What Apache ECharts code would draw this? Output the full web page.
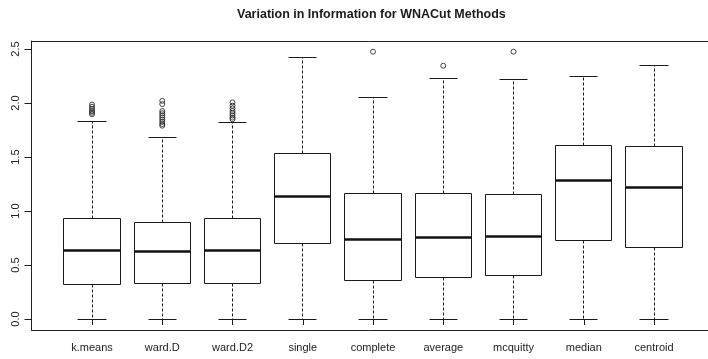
<!DOCTYPE html>
<html>
<head>
<meta charset="utf-8">
<script src="https://cdn.jsdelivr.net/npm/echarts@6/dist/echarts.min.js"></script>
<style>html,body{margin:0;padding:0;background:#fff;}#c{width:708px;height:359px;}</style>
</head>
<body>
<div id="c"></div>
<script>
var categories = ['k.means','ward.D','ward.D2','single','complete','average','mcquitty','median','centroid'];
var whiskerLow  = [0, 0, 0, 0, 0, 0, 0, 0, 0];
var q1          = [0.318, 0.327, 0.333, 0.701, 0.352, 0.380, 0.401, 0.729, 0.660];
var medians     = [0.632, 0.623, 0.630, 1.130, 0.734, 0.756, 0.762, 1.284, 1.222];
var q3          = [0.932, 0.889, 0.929, 1.531, 1.160, 1.164, 1.151, 1.602, 1.599];
var whiskerHigh = [1.830, 1.679, 1.818, 2.417, 2.053, 2.225, 2.216, 2.244, 2.345];
var outliers = [
  [1.985, 1.965, 1.945, 1.925, 1.91, 1.895],
  [2.02, 1.99, 1.925, 1.905, 1.885, 1.865, 1.845, 1.825, 1.805, 1.79],
  [2.005, 1.975, 1.95, 1.925, 1.905, 1.885, 1.865, 1.85],
  [],
  [2.475],
  [2.345],
  [2.475],
  [],
  []
];
var yTicks = [0, 0.5, 1.0, 1.5, 2.0, 2.5];

var boxData = categories.map(function (c, i) {
  return [i, whiskerLow[i], q1[i], medians[i], q3[i], whiskerHigh[i]];
});
var outData = [];
outliers.forEach(function (arr, i) { arr.forEach(function (v) { outData.push([i, v]); }); });

var FONT = 'Liberation Sans, Arial, Helvetica, sans-serif';
var LC = '#1a1a1a';
var frameLine = {show: true, lineStyle: {color: '#222', width: 1}};

function crisp(v) { return Math.round(v - 0.5) + 0.5; }

var chart = echarts.init(document.getElementById('c'), null, {renderer: 'canvas'});
chart.setOption({
  animation: false,
  backgroundColor: '#fff',
  title: {
    text: 'Variation in Information for WNACut Methods',
    left: 237, top: 8, padding: 0,
    textStyle: {fontFamily: FONT, fontSize: 12.5, fontWeight: 'bold', color: '#1a1a1a'}
  },
  grid: [
    {left: 31.5, top: 41, width: 683, height: 289, show: false},
    {left: 56.9, top: 49, width: 632.25, height: 270}
  ],
  xAxis: [
    {gridIndex: 0, type: 'value', position: 'bottom', min: 0, max: 1,
     axisLine: frameLine, axisTick: {show: false}, axisLabel: {show: false}, splitLine: {show: false}},
    {gridIndex: 0, type: 'value', position: 'top', min: 0, max: 1,
     axisLine: frameLine, axisTick: {show: false}, axisLabel: {show: false}, splitLine: {show: false}},
    {gridIndex: 1, type: 'category', data: categories, offset: 11,
     axisLine: {show: false},
     axisTick: {show: true, alignWithLabel: true, length: 6, lineStyle: {color: LC, width: 1}},
     axisLabel: {fontFamily: FONT, fontSize: 11, color: '#222', margin: 12, interval: 0},
     splitLine: {show: false}}
  ],
  yAxis: [
    {gridIndex: 0, type: 'value', position: 'left', min: 0, max: 1,
     axisLine: frameLine, axisTick: {show: false}, axisLabel: {show: false}, splitLine: {show: false}},
    {gridIndex: 1, type: 'value', min: yTicks[0], max: yTicks[yTicks.length - 1], interval: 0.5, offset: 25.4,
     axisLine: {show: false},
     axisTick: {show: true, length: 7, lineStyle: {color: LC, width: 1}},
     axisLabel: {fontFamily: FONT, fontSize: 11, color: '#222', rotate: 90, margin: 10,
                 formatter: function (v) { return v.toFixed(1); }},
     splitLine: {show: false}}
  ],
  series: [
    {
      type: 'custom',
      xAxisIndex: 2, yAxisIndex: 1,
      data: boxData,
      renderItem: function (params, api) {
        var idx = api.value(0);
        var band = api.size([1, 0])[0];
        var boxW = band * 0.8;
        var capW = boxW * 0.5;
        var pMin = api.coord([idx, api.value(1)]);
        var pQ1 = api.coord([idx, api.value(2)]);
        var pMed = api.coord([idx, api.value(3)]);
        var pQ3 = api.coord([idx, api.value(4)]);
        var pMax = api.coord([idx, api.value(5)]);
        var cx = crisp(pMin[0]);
        var x0 = crisp(pMin[0] - boxW / 2), x1 = crisp(pMin[0] + boxW / 2);
        var c0 = crisp(pMin[0] - capW / 2), c1 = crisp(pMin[0] + capW / 2);
        var yMin = crisp(pMin[1]), yQ1 = crisp(pQ1[1]), yQ3 = crisp(pQ3[1]), yMax = crisp(pMax[1]);
        var yMed = crisp(pMed[1]);
        var dash = {stroke: LC, lineWidth: 1, lineDash: [3, 2]};
        var solid = {stroke: LC, lineWidth: 1};
        return {
          type: 'group',
          children: [
            {type: 'line', shape: {x1: cx, y1: yQ3, x2: cx, y2: yMax}, style: dash},
            {type: 'line', shape: {x1: cx, y1: yQ1, x2: cx, y2: yMin}, style: dash},
            {type: 'line', shape: {x1: c0, y1: yMax, x2: c1, y2: yMax}, style: solid},
            {type: 'line', shape: {x1: c0, y1: yMin, x2: c1, y2: yMin}, style: solid},
            {type: 'rect', shape: {x: x0, y: yQ3, width: x1 - x0, height: yQ1 - yQ3}, style: {fill: '#fff', stroke: LC, lineWidth: 1}},
            {type: 'line', shape: {x1: x0, y1: yMed, x2: x1, y2: yMed}, style: {stroke: '#111', lineWidth: 2.5}}
          ]
        };
      }
    },
    {
      type: 'scatter',
      xAxisIndex: 2, yAxisIndex: 1,
      data: outData,
      symbol: 'circle',
      symbolSize: 5,
      itemStyle: {color: 'transparent', borderColor: LC, borderWidth: 1},
      z: 3
    }
  ]
});
</script>
</body>
</html>
